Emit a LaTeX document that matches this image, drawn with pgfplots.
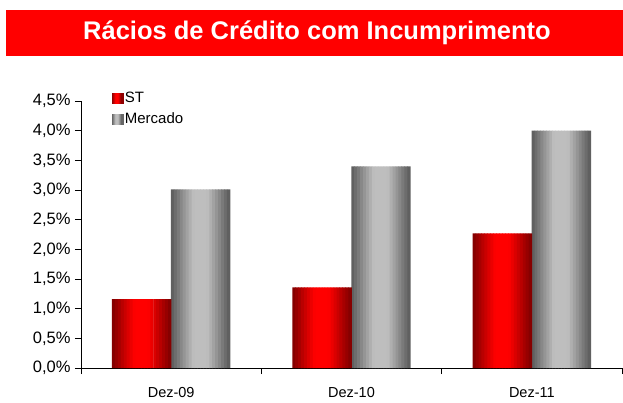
\documentclass[border=0pt]{standalone}
\usepackage{pgfplots}
\usepackage{pgfplotstable}
\pgfplotsset{compat=1.18}
\usepackage{fontspec}
\setmainfont{Liberation Sans}

\definecolor{stdark}{HTML}{7E0000}
\definecolor{stmid}{HTML}{FF0000}
\definecolor{mkdark}{HTML}{5A5A5A}
\definecolor{mkmid}{HTML}{BEBEBE}
\definecolor{titlered}{HTML}{FF0000}

\pgfplotstableread{
x st mk
0 1.16 3.01
1 1.36 3.40
2 2.27 4.00
}\ratios

\begin{document}
\begin{tikzpicture}
\useasboundingbox (-81bp,-35bp) rectangle (542bp,368bp);
% title bar
\fill[titlered] (-75bp,312bp) rectangle (542bp,358bp);
\node[text=white,font=\fontsize{25.5bp}{30bp}\selectfont\bfseries] at (236bp,335bp) {Rácios de Crédito com Incumprimento};

\begin{axis}[
    at={(0,0)}, anchor=south west,
    scale only axis,
    width=541bp, height=267bp,
    xmin=-0.5, xmax=2.5,
    ymin=0, ymax=4.5,
    axis x line=bottom, axis y line=left,
    axis line style={-, black, line width=0.8bp},
    xtick={-0.5,0.5,1.5,2.5},
    xticklabels={},
    extra x ticks={0,1,2},
    extra x tick labels={Dez-09,Dez-10,Dez-11},
    extra x tick style={major tick length=0pt, xticklabel style={yshift=-16bp}},
    ytick={0,0.5,...,4.5},
    major tick length=6bp,
    tick style={black, line width=0.8bp},
    tick align=outside,
    yticklabel={\pgfmathprintnumber[fixed,fixed zerofill,precision=1,use comma]{\tick}\%},
    /pgf/number format/assume math mode=true,
    xticklabel style={font=\fontsize{14.5bp}{17bp}\selectfont},
    yticklabel style={font=\fontsize{16.5bp}{19bp}\selectfont, xshift=-1bp},
    legend style={at={(0.052,1.05)}, anchor=north west, draw=none, fill=none,
        font=\fontsize{15bp}{17bp}\selectfont, row sep=5bp,
        /tikz/every even column/.append style={column sep=2bp}},
    legend cell align=left,
    clip=false,
]
% each bar is drawn as 20 thin strips to give the horizontal cylinder shading
\pgfplotsinvokeforeach{0,...,19}{
  \pgfmathsetmacro\shst{-0.327+(#1+0.5)*0.01635}
  \pgfmathsetmacro\shmk{(#1+0.5)*0.01635}
  \pgfmathtruncatemacro\mix{min(100,100*min((#1+0.5)/20,1-(#1+0.5)/20)/0.38)}
  \edef\doplot{%
    \noexpand\addplot[ybar, bar width=0.019, bar shift=\shst, draw=none,
      fill=stmid!\mix!stdark, forget plot] table[x=x,y=st]{\noexpand\ratios};
    \noexpand\addplot[ybar, bar width=0.019, bar shift=\shmk, draw=none,
      fill=mkmid!\mix!mkdark, forget plot] table[x=x,y=mk]{\noexpand\ratios};
  }
  \doplot
}
\addlegendimage{legend image code/.code={
  \foreach \i in {0,...,9} {
    \pgfmathtruncatemacro\m{min(100,100*min((\i+0.5)/10,1-(\i+0.5)/10)/0.38)}
    \fill[stmid!\m!stdark] (\i bp,-5bp) rectangle ++(1.2bp,10bp);
  }}}
\addlegendentry{ST}
\addlegendimage{legend image code/.code={
  \foreach \i in {0,...,9} {
    \pgfmathtruncatemacro\m{min(100,100*min((\i+0.5)/10,1-(\i+0.5)/10)/0.38)}
    \fill[mkmid!\m!mkdark] (\i bp,-5bp) rectangle ++(1.2bp,10bp);
  }}}
\addlegendentry{Mercado}
\end{axis}
\end{tikzpicture}
\end{document}
